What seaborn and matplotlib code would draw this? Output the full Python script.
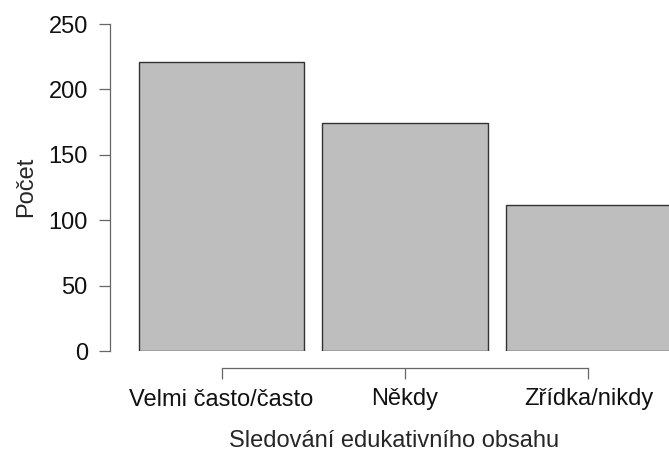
"""Bar chart: how often respondents watch educational content (R base-graphics look)."""

import matplotlib
matplotlib.use("Agg")
import matplotlib.pyplot as plt
import pandas as pd
import seaborn as sns

categories = ["Velmi často/často", "Někdy", "Zřídka/nikdy"]
counts = [221, 174, 112]
y_ticks = [0, 50, 100, 150, 200, 250]

sns.set_theme(style="ticks")
plt.rcParams["font.family"] = ["Liberation Sans", "DejaVu Sans"]
plt.rcParams["text.color"] = "#111111"

df = pd.DataFrame({"kategorie": categories, "pocet": counts})

fig = plt.figure(figsize=(6.69, 4.53), dpi=100)
# plot region runs a little past the right edge of the image, like the original
ax = fig.add_axes([110 / 669, 102 / 453, 568 / 669, 333.5 / 453])

sns.barplot(data=df, x="kategorie", y="pocet", color="#BEBEBE", saturation=1,
            edgecolor="#333333", linewidth=1.0, width=0.9, ax=ax)

ax.set_xlim(-0.608, 2.488)
ax.set_ylim(0, 255)
ax.set_yticks(y_ticks)

for side in ["top", "right"]:
    ax.spines[side].set_visible(False)
ax.spines["left"].set_bounds(0, 250)
ax.spines["bottom"].set_bounds(0, 2)
ax.spines["bottom"].set_position(("outward", 12.2))
for side in ["left", "bottom"]:
    ax.spines[side].set_color("#666666")
    ax.spines[side].set_linewidth(0.9)

ax.tick_params(axis="both", direction="out", length=8, width=0.9, color="#666666",
               labelsize=17, labelcolor="#111111")
ax.tick_params(axis="x", pad=6.8)
ax.tick_params(axis="y", pad=8)

ax.set_xlabel("Sledování edukativního obsahu", fontsize=17, va="top")
ax.set_ylabel("Počet", fontsize=17)
ax.xaxis.set_label_coords(0.5, -0.237)
ax.yaxis.set_label_coords(-0.1285, 0.492)

fig.savefig("out.png", dpi=100)
